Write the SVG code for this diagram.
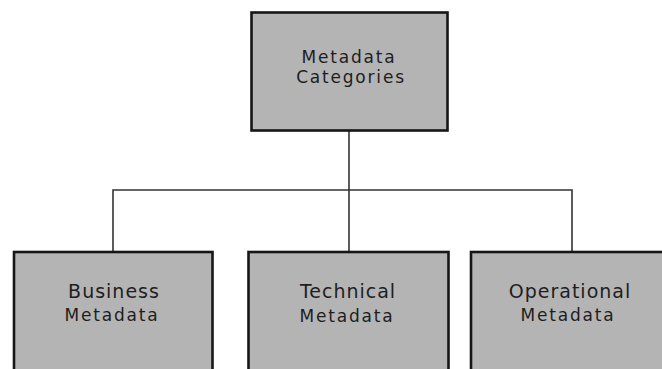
<svg xmlns="http://www.w3.org/2000/svg" width="662" height="369" viewBox="0 0 662 369">
  <style>
    .box { fill: #b4b4b4; stroke: #161616; stroke-width: 2.6; }
    .link { fill: none; stroke: #333333; stroke-width: 1.6; }
    .lbl { font-family: "DejaVu Sans", Verdana, sans-serif; fill: #1e1e1e; text-anchor: middle; }
    .big { font-size: 19px; letter-spacing: 1px; }
    .small { font-size: 17px; letter-spacing: 1.8px; }
  </style>
  <rect width="662" height="369" fill="#ffffff"/>

  <!-- tree connectors -->
  <g id="connectors">
    <path class="link" d="M349 131 V190"/>
    <path class="link" d="M113 252 V190 H572 V252"/>
    <path class="link" d="M349 190 V252"/>
  </g>

  <g id="metadata-categories">
    <rect class="box" x="251.5" y="12.5" width="196" height="118"/>
    <text class="lbl small" x="349" y="63">Metadata</text>
    <text class="lbl small" x="351" y="83">Categories</text>
  </g>

  <g id="business-metadata">
    <rect class="box" x="14" y="252" width="198.5" height="125"/>
    <text class="lbl big" x="114" y="297.5">Business</text>
    <text class="lbl small" x="112" y="320.5">Metadata</text>
  </g>

  <g id="technical-metadata">
    <rect class="box" x="248.5" y="252" width="200" height="125"/>
    <text class="lbl big" x="348" y="298">Technical</text>
    <text class="lbl small" x="347" y="321.5">Metadata</text>
  </g>

  <g id="operational-metadata">
    <rect class="box" x="471" y="252" width="200" height="125"/>
    <text class="lbl big" x="570" y="298">Operational</text>
    <text class="lbl small" x="568" y="320.5">Metadata</text>
  </g>
</svg>
